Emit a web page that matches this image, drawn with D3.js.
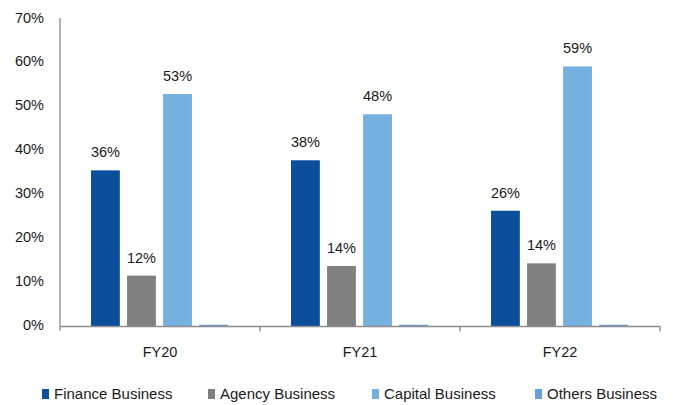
<!DOCTYPE html>
<html>
<head>
<meta charset="utf-8">
<script src="https://cdn.jsdelivr.net/npm/d3@7"></script>
<style>
  html, body { margin: 0; padding: 0; background: #fff; }
  svg { display: block; }
  text { font-family: "Liberation Sans", Arial, sans-serif; fill: #1a1a1a; }
</style>
</head>
<body>
<svg id="chart" width="673" height="405"></svg>
<script>
var categories = ['FY20', 'FY21', 'FY22'];
var seriesNames = ['Finance Business', 'Agency Business', 'Capital Business', 'Others Business'];
var financeValues = [35.6, 37.9, 26.4];
var agencyValues = [11.6, 13.8, 14.4];
var capitalValues = [53.0, 48.4, 59.3];
var othersValues = [0.4, 0.4, 0.4];
var yTicks = [0, 10, 20, 30, 40, 50, 60, 70];

(function () {
  'use strict';

  var width = 673,
      height = 405,
      m_left = 60,
      m_right = 660,
      m_top = 19.5,
      m_bottom = 326.5;

  var series = [
    {name: seriesNames[0], values: financeValues, color: '#0b4f9c', label: true},
    {name: seriesNames[1], values: agencyValues, color: '#808080', label: true},
    {name: seriesNames[2], values: capitalValues, color: '#74b1df', label: true},
    {name: seriesNames[3], values: othersValues, color: '#6a9fd8', label: false}
  ];

  var svg = d3.select('#chart')
    .attr('width', width)
    .attr('height', height);

  // scales
  var x0 = d3.scaleBand()
    .domain(categories)
    .range([m_left, m_right]);

  var x1 = d3.scaleBand()
    .domain(seriesNames)
    .range([31, x0.bandwidth() - 32])
    .paddingInner(0.2);

  var y = d3.scaleLinear()
    .domain([0, 70])
    .range([m_bottom, m_top]);

  // y axis labels (no tick marks)
  svg.append('g')
    .selectAll('text')
    .data(yTicks)
    .enter().append('text')
      .attr('x', 44)
      .attr('y', function (d) { return y(d) - 2; })
      .attr('dy', '0.35em')
      .attr('text-anchor', 'end')
      .style('font-size', '14.5px')
      .text(function (d) { return d + '%'; });

  // bars
  var groups = svg.append('g')
    .selectAll('g')
    .data(categories)
    .enter().append('g')
      .attr('transform', function (d) { return 'translate(' + x0(d) + ',0)'; });

  groups.selectAll('rect')
    .data(function (d, i) {
      return series.map(function (s) {
        return {name: s.name, value: s.values[i], color: s.color, label: s.label};
      });
    })
    .enter().append('rect')
      .attr('x', function (d) { return x1(d.name); })
      .attr('y', function (d) { return y(d.value); })
      .attr('width', x1.bandwidth())
      .attr('height', function (d) { return y(0) - y(d.value); })
      .attr('fill', function (d) { return d.color; });

  // value labels
  groups.selectAll('text')
    .data(function (d, i) {
      return series.filter(function (s) { return s.label; }).map(function (s) {
        return {name: s.name, value: s.values[i]};
      });
    })
    .enter().append('text')
      .attr('x', function (d) { return x1(d.name) + x1.bandwidth() / 2; })
      .attr('y', function (d) { return y(d.value) - 13; })
      .attr('text-anchor', 'middle')
      .style('font-size', '14.5px')
      .text(function (d) { return d3.format('.0f')(d.value) + '%'; });

  // axes lines
  var axisColor = '#8c8c8c';
  svg.append('line')
    .attr('x1', m_left).attr('x2', m_left)
    .attr('y1', 18).attr('y2', m_bottom + 4)
    .attr('stroke', axisColor)
    .attr('stroke-width', 1.3);

  svg.append('line')
    .attr('x1', m_left).attr('x2', m_right)
    .attr('y1', m_bottom).attr('y2', m_bottom)
    .attr('stroke', axisColor)
    .attr('stroke-width', 1.3);

  // category dividers
  svg.append('g')
    .selectAll('line')
    .data(categories)
    .enter().append('line')
      .attr('x1', function (d) { return x0(d) + x0.bandwidth(); })
      .attr('x2', function (d) { return x0(d) + x0.bandwidth(); })
      .attr('y1', m_bottom)
      .attr('y2', m_bottom + 5)
      .attr('stroke', axisColor)
      .attr('stroke-width', 1.3);

  // category labels
  svg.append('g')
    .selectAll('text')
    .data(categories)
    .enter().append('text')
      .attr('x', function (d) { return x0(d) + x0.bandwidth() / 2; })
      .attr('y', 352)
      .attr('dy', '0.35em')
      .attr('text-anchor', 'middle')
      .style('font-size', '14.5px')
      .text(function (d) { return d; });

  // legend
  var legendX = [42, 208, 372, 535];
  var legend = svg.append('g')
    .selectAll('g')
    .data(series)
    .enter().append('g')
      .attr('transform', function (d, i) { return 'translate(' + legendX[i] + ',389)'; });

  legend.append('rect')
    .attr('width', 7)
    .attr('height', 10)
    .attr('fill', function (d) { return d.color; });

  legend.append('text')
    .attr('x', 12)
    .attr('y', 5)
    .attr('dy', '0.35em')
    .style('font-size', '15px')
    .text(function (d) { return d.name; });
})();
</script>
</body>
</html>
